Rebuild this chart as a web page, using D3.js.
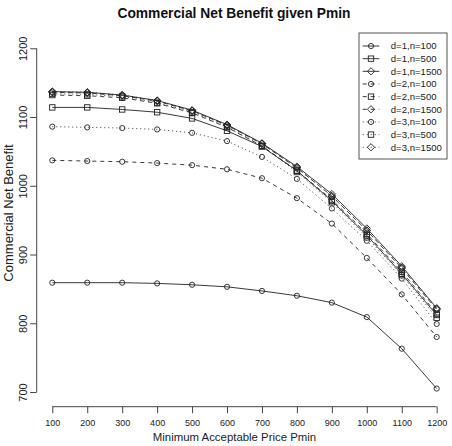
<!DOCTYPE html>
<html><head><meta charset="utf-8">
<script src="https://cdn.jsdelivr.net/npm/d3@7"></script>
<style>body{margin:0;background:#fff}svg{display:block;font-family:"Liberation Sans",Arial,sans-serif}</style>
</head><body>
<svg id="c" width="452" height="446"></svg>
<script>
const pmin = [100,200,300,400,500,600,700,800,900,1000,1100,1200];
const seriesNames = ["d=1,n=100","d=1,n=500","d=1,n=1500","d=2,n=100","d=2,n=500","d=2,n=1500","d=3,n=100","d=3,n=500","d=3,n=1500"];
const d1n100  = [859,859,859,858,856,853,847,840,830,809,763,705];
const d1n500  = [1114,1114,1111,1107,1098,1080,1057,1022,978,928,872,812];
const d1n1500 = [1137,1136,1132,1124,1110,1089,1062,1028,988,938,883,822];
const d2n100  = [1037,1036,1035,1033,1030,1024,1011,982,945,895,842,780];
const d2n500  = [1132,1131,1128,1120,1106,1085,1058,1022,980,930,875,814];
const d2n1500 = [1136,1135,1131,1123,1109,1088,1061,1026,985,935,880,820];
const d3n100  = [1086,1085,1084,1082,1077,1065,1042,1010,967,920,865,799];
const d3n500  = [1134,1133,1130,1121,1107,1086,1058,1020,976,925,870,808];
const d3n1500 = [1137,1136,1132,1124,1109,1088,1061,1026,985,935,881,821];
const seriesValues = [d1n100,d1n500,d1n1500,d2n100,d2n500,d2n1500,d3n100,d3n500,d3n1500];
const xTicks = [100,200,300,400,500,600,700,800,900,1000,1100,1200];
const yTicks = [700,800,900,1000,1100,1200];

const dashes = [null, "4,4", "1,3"];      // by d
const shapes = ["circle","square","diamond"]; // by n
const ink = "#222";

const svg = d3.select("#c");
const x = d3.scaleLinear().domain([100,1200]).range([52.3,436.7]);
const y = d3.scaleLinear().domain([700,1200]).range([392,48.3]);

// title
svg.append("text").attr("x",234).attr("y",18).attr("text-anchor","middle")
  .attr("font-size",13.8).attr("font-weight","bold").attr("fill","#111")
  .text("Commercial Net Benefit given Pmin");

// x axis
const xAxis = d3.axisBottom(x).tickValues(xTicks).tickSize(6.5).tickPadding(3).tickFormat(d3.format("d"));
const gx = svg.append("g").attr("transform","translate(0,406.7)").call(xAxis);
gx.select(".domain").attr("d",`M${x(100)},0H${x(1200)}`).attr("stroke","#444");
gx.selectAll(".tick line").attr("stroke","#444");
gx.selectAll(".tick text").attr("font-size",9).attr("fill","#222").attr("font-family","Liberation Sans, Arial, sans-serif").attr("y",null).attr("dy",null).attr("transform","translate(0,19.5)");

// y axis
const yAxis = d3.axisLeft(y).tickValues(yTicks).tickSize(6.5).tickFormat(d3.format("d"));
const gy = svg.append("g").attr("transform","translate(36.7,0)").call(yAxis);
gy.select(".domain").attr("d",`M0,${y(700)}V${y(1200)}`).attr("stroke","#444");
gy.selectAll(".tick line").attr("stroke","#444");
gy.selectAll(".tick text").attr("font-size",11).attr("fill","#222").attr("font-family","Liberation Sans, Arial, sans-serif")
  .attr("x",null).attr("dy",null).attr("text-anchor","middle").attr("transform","translate(-10,0) rotate(-90)");

// axis labels
svg.append("text").attr("x",234.5).attr("y",441).attr("text-anchor","middle").attr("font-size",11.4).attr("fill","#222")
  .text("Minimum Acceptable Price Pmin");
svg.append("text").attr("transform",`translate(12.5,213) rotate(-90)`).attr("text-anchor","middle").attr("font-size",13).attr("fill","#222")
  .text("Commercial Net Benefit");

function marker(g, shape, cx, cy){
  if(shape==="circle") g.append("circle").attr("cx",cx).attr("cy",cy).attr("r",2.6);
  else if(shape==="square") g.append("rect").attr("x",cx-2.7).attr("y",cy-2.7).attr("width",5.4).attr("height",5.4);
  else g.append("path").attr("d",`M${cx},${cy-3.6}L${cx+3.6},${cy}L${cx},${cy+3.6}L${cx-3.6},${cy}Z`);
}

const line = d3.line().x((d,i)=>x(pmin[i])).y(d=>y(d));
const plot = svg.append("g");
seriesValues.forEach((vals,k)=>{
  const dash = dashes[Math.floor(k/3)], shape = shapes[k%3];
  const g = plot.append("g").attr("fill","none").attr("stroke",ink).attr("stroke-width",0.9);
  g.append("path").attr("d",line(vals)).attr("stroke-dasharray",dash);
  const mg = g.append("g").attr("fill","none");
  vals.forEach((v,i)=>marker(mg,shape,x(pmin[i]),y(v)));
});

// legend
const lg = svg.append("g");
lg.append("rect").attr("x",359).attr("y",33).attr("width",88).attr("height",126).attr("fill","#fff").attr("stroke","#555").attr("stroke-width",1);
seriesNames.forEach((name,k)=>{
  const cy = 46 + k*12.66;
  const dash = dashes[Math.floor(k/3)], shape = shapes[k%3];
  const g = lg.append("g").attr("fill","none").attr("stroke",ink).attr("stroke-width",0.9);
  g.append("line").attr("x1",362.7).attr("x2",379.3).attr("y1",cy).attr("y2",cy).attr("stroke-dasharray",dash);
  marker(g,shape,371,cy);
  lg.append("text").attr("x",390.7).attr("y",cy).attr("dy","0.35em").attr("font-size",9.6).attr("fill","#222").text(name);
});
</script>
</body></html>
